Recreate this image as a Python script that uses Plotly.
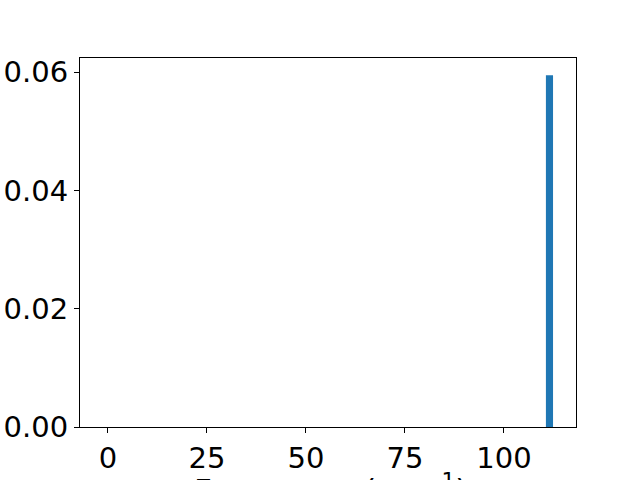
import plotly.graph_objects as go

# Data
frequencies = [111.5]
intensities = [0.0595]
x_ticks = [0, 25, 50, 75, 100]
y_ticks = [0.00, 0.02, 0.04, 0.06]
x_label = "Frequency (cm<sup>−1</sup>)"

fig = go.Figure()
fig.add_trace(go.Bar(x=frequencies, y=intensities, width=1.8,
                     marker=dict(color="#1f77b4", line=dict(width=0))))

font = dict(family="DejaVu Sans", size=29, color="black")
fig.update_layout(
    width=640, height=480,
    margin=dict(l=80, r=64, t=58, b=53),
    paper_bgcolor="white", plot_bgcolor="white",
    showlegend=False,
    font=font,
)
fig.update_xaxes(range=[-7.07, 118.2], tickvals=x_ticks, ticks="outside", ticklen=5,
                 tickcolor="black", showline=True, linecolor="black", linewidth=1,
                 mirror=True, showgrid=False, zeroline=False, tickfont=font,
                 automargin=False)
fig.update_yaxes(range=[0, 0.0624], tickvals=y_ticks, tickformat=".2f", ticks="outside",
                 ticklen=5, tickcolor="black", showline=True, linecolor="black",
                 linewidth=1, mirror=True, showgrid=False, zeroline=False, tickfont=font,
                 automargin=False)
fig.add_annotation(text=x_label, xref="paper", yref="paper", x=0.505, y=-0.106,
                   xanchor="center", yanchor="top", showarrow=False,
                   font=dict(family="DejaVu Sans", size=31, color="black"))
fig.write_html("out.html", config={"displayModeBar": False},
               post_script="document.body.style.margin='0px';document.body.style.overflow='hidden';")
